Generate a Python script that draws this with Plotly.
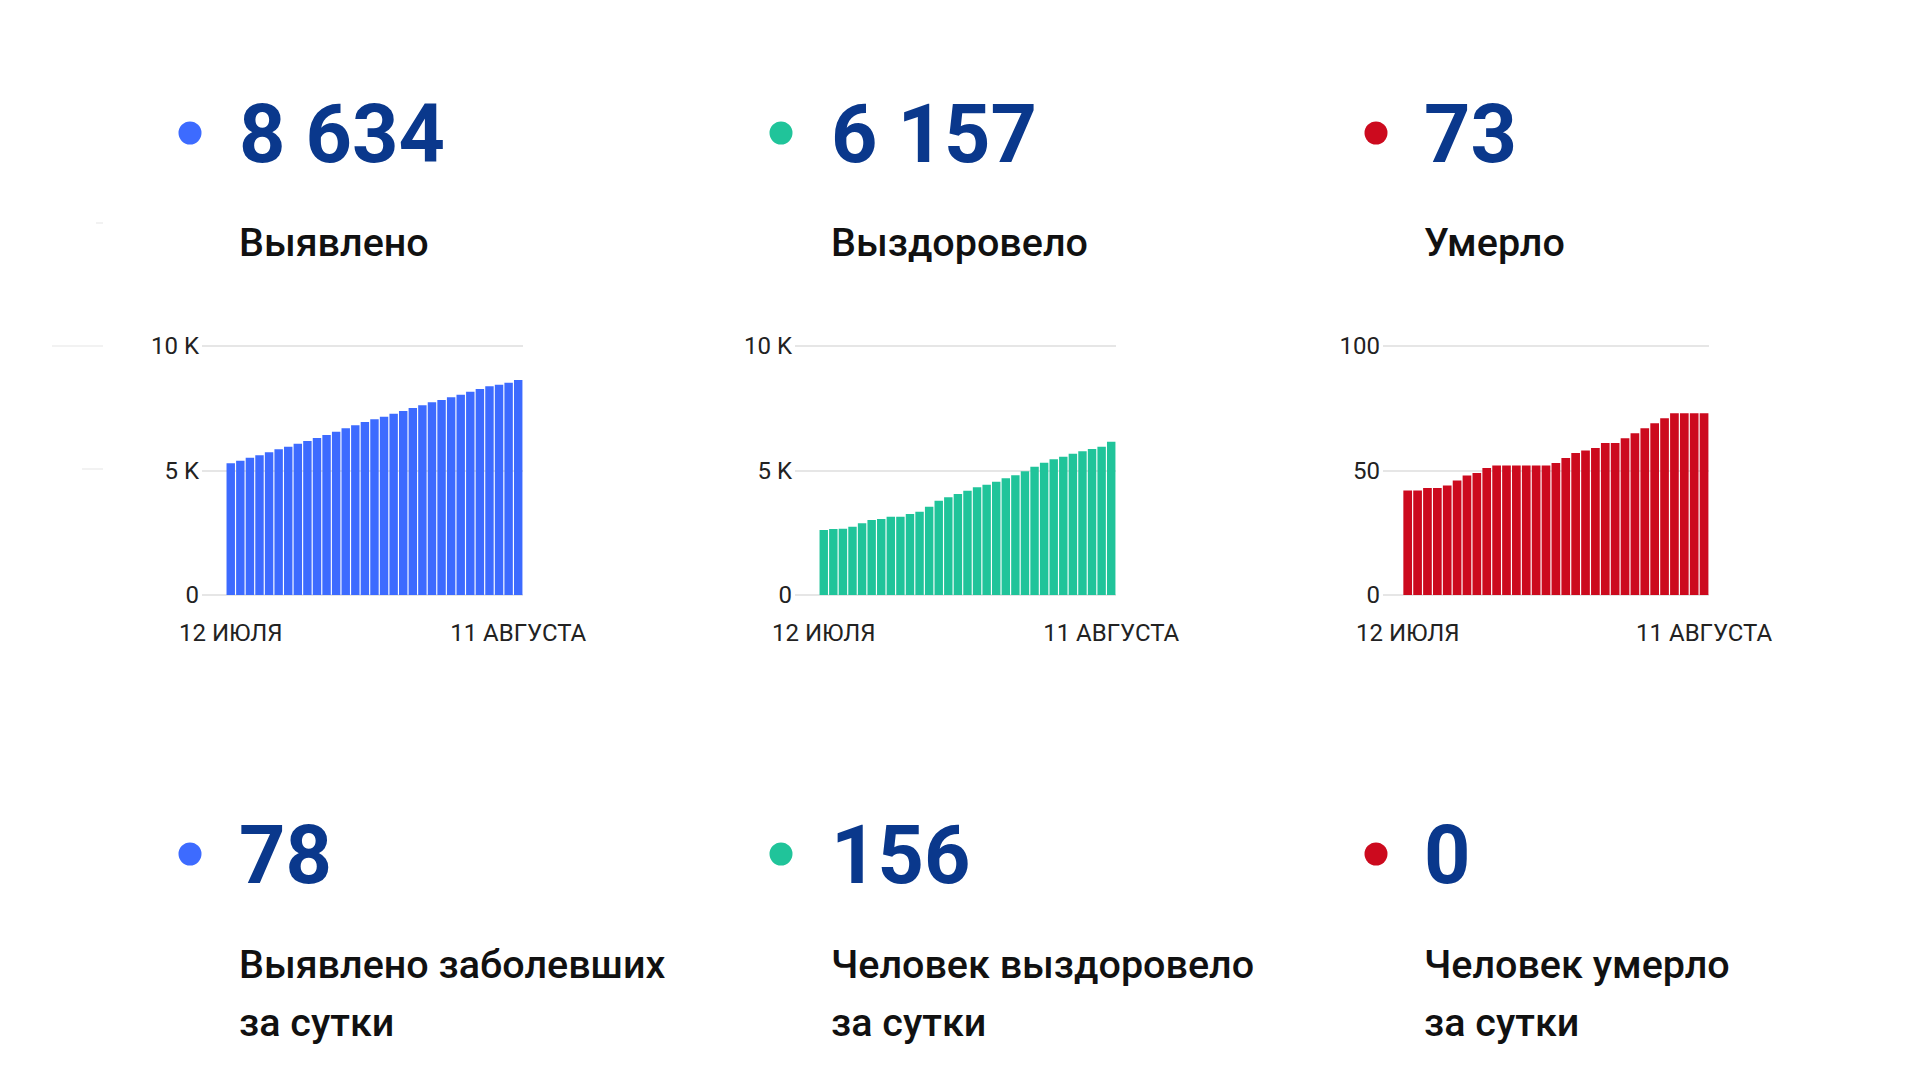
import plotly.graph_objects as go

W, H = 1920, 1080

dates = [f"{d} июля" for d in range(12, 32)] + [f"{d} августа" for d in range(1, 12)]
x_idx = list(range(len(dates)))

cases = [5288, 5395, 5515, 5609, 5730, 5850, 5957, 6078, 6185, 6305, 6426,
         6560, 6693, 6814, 6948, 7055, 7162, 7282, 7390, 7510, 7617, 7738,
         7831, 7938, 8046, 8166, 8273, 8380, 8447, 8527, 8634]
recovered = [2610, 2651, 2664, 2744, 2878, 3012, 3052, 3146, 3146, 3253, 3347,
             3548, 3788, 3922, 4056, 4190, 4324, 4431, 4552, 4685, 4806, 4967,
             5154, 5315, 5448, 5556, 5676, 5770, 5863, 5957, 6157]
deaths = [42, 42, 43, 43, 44, 46, 48, 49, 51, 52, 52, 52, 52, 52, 52, 53, 55,
          57, 58, 59, 61, 61, 63, 65, 67, 69, 71, 73, 73, 73, 73]

x_tick_vals = [0, 30]
x_tick_text = ["12 ИЮЛЯ", "11 АВГУСТА"]
y_ticks_k = [0, 5000, 10000]
y_ticks_k_text = ["0", "5 K", "10 K"]
y_ticks_d = [0, 50, 100]
y_ticks_d_text = ["0", "50", "100"]

totals = ["8 634", "6 157", "73"]
total_labels = ["Выявлено", "Выздоровело", "Умерло"]
daily = ["78", "156", "0"]
daily_line1 = ["Выявлено заболевших", "Человек выздоровело", "Человек умерло"]
daily_line2 = ["за сутки", "за сутки", "за сутки"]

colors = ["#3d6bff", "#20c49a", "#cc0a1e"]
NUM_COLOR = "#0a388c"
FONT = "Roboto"

def px(x):
    return x / W

def py(y):
    return 1 - y / H

fig = go.Figure()

series = [cases, recovered, deaths]
plot_x = [(202, 523, -3.0), (795, 1116, -3.0), (1383, 1709, -2.5)]
y_top, y_bot = 346, 595  # pixel rows of the top tick and of zero

for i, (vals, (x0, x1, xmin)) in enumerate(zip(series, plot_x)):
    n = i + 1
    xa = "x" if n == 1 else f"x{n}"
    ya = "y" if n == 1 else f"y{n}"
    is_d = (i == 2)
    ymax = 100 if is_d else 10000
    pad_lo, pad_hi = 0.006 * ymax, 0.005 * ymax
    k = (y_bot - y_top) / ymax
    dom_bot = y_bot + k * pad_lo
    dom_top = y_top - k * pad_hi
    fig.add_trace(go.Bar(x=x_idx, y=vals, marker=dict(color=colors[i], line=dict(width=0)),
                         xaxis=xa, yaxis=ya, showlegend=False,
                         hovertext=dates, hoverinfo="text+y"))
    fig.update_layout(**{
        f"xaxis{'' if n == 1 else n}": dict(
            domain=[px(x0), px(x1)], range=[xmin, 30.5], anchor=ya,
            tickvals=x_tick_vals, ticktext=x_tick_text, showgrid=False,
            zeroline=False, showline=False, ticks="", fixedrange=True,
            automargin=False,
            tickfont=dict(family=FONT, size=24, color="#222222"),
            ticklabelstandoff=20),
        f"yaxis{'' if n == 1 else n}": dict(
            domain=[py(dom_bot), py(dom_top)], range=[-pad_lo, ymax + pad_hi],
            anchor=xa, tickvals=y_ticks_d if is_d else y_ticks_k,
            ticktext=y_ticks_d_text if is_d else y_ticks_k_text,
            showgrid=True, gridcolor="#e6e6e6", gridwidth=2,
            zeroline=False, showline=False, ticks="", fixedrange=True,
            automargin=False,
            tickfont=dict(family=FONT, size=24, color="#222222"),
            ticklabelstandoff=2),
    })

annotations = []
shapes = []
dot_x = [190, 781, 1376]
text_x = [237, 829, 1422]
NUM_SIZE = 81
LBL_SIZE = 39.5

for i in range(3):
    # top row
    shapes.append(dict(type="circle", xref="paper", yref="paper",
                       xsizemode="pixel", ysizemode="pixel",
                       xanchor=px(dot_x[i]), yanchor=py(133),
                       x0=-11.5, x1=11.5, y0=-11.5, y1=11.5,
                       fillcolor=colors[i], line=dict(width=0)))
    annotations.append(dict(text=totals[i], xref="paper", yref="paper",
                            x=px(text_x[i]), y=py(134), xanchor="left", yanchor="middle",
                            showarrow=False,
                            font=dict(family=FONT, size=NUM_SIZE, color=NUM_COLOR, weight="bold")))
    annotations.append(dict(text=total_labels[i], xref="paper", yref="paper",
                            x=px(text_x[i]), y=py(242), xanchor="left", yanchor="middle",
                            showarrow=False,
                            font=dict(family=FONT, size=LBL_SIZE, color="#111111", weight=500)))
    # bottom row
    shapes.append(dict(type="circle", xref="paper", yref="paper",
                       xsizemode="pixel", ysizemode="pixel",
                       xanchor=px(dot_x[i]), yanchor=py(854),
                       x0=-11.5, x1=11.5, y0=-11.5, y1=11.5,
                       fillcolor=colors[i], line=dict(width=0)))
    annotations.append(dict(text=daily[i], xref="paper", yref="paper",
                            x=px(text_x[i]), y=py(855), xanchor="left", yanchor="middle",
                            showarrow=False,
                            font=dict(family=FONT, size=NUM_SIZE, color=NUM_COLOR, weight="bold")))
    annotations.append(dict(text=daily_line1[i], xref="paper", yref="paper",
                            x=px(text_x[i]), y=py(964), xanchor="left", yanchor="middle",
                            showarrow=False,
                            font=dict(family=FONT, size=LBL_SIZE, color="#111111", weight=500)))
    annotations.append(dict(text=daily_line2[i], xref="paper", yref="paper",
                            x=px(text_x[i]), y=py(1022), xanchor="left", yanchor="middle",
                            showarrow=False,
                            font=dict(family=FONT, size=LBL_SIZE, color="#111111", weight=500)))

# faint stray lines at the far left
for (lx0, lx1, ly) in [(96, 103, 223), (52, 103, 346), (82, 103, 469)]:
    shapes.append(dict(type="line", xref="paper", yref="paper",
                       x0=px(lx0), x1=px(lx1), y0=py(ly), y1=py(ly),
                       line=dict(color="#eeeeee", width=1.5)))

fig.update_layout(
    width=W, height=H,
    margin=dict(l=0, r=0, t=0, b=0, pad=0, autoexpand=False),
    paper_bgcolor="white", plot_bgcolor="white",
    bargap=0.12,
    annotations=annotations, shapes=shapes,
    font=dict(family=FONT),
)

fig.write_html("out.html", config={"displayModeBar": False})
